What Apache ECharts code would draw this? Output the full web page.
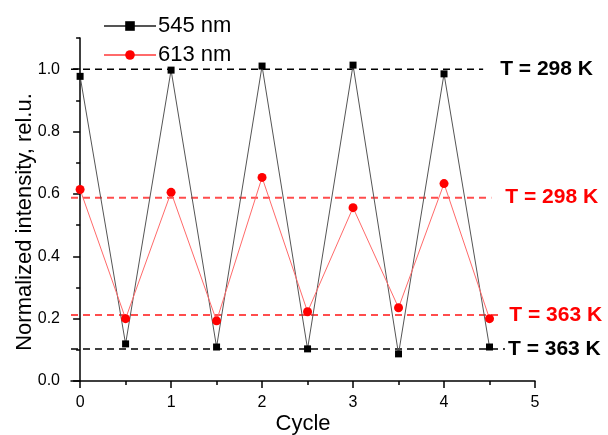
<!DOCTYPE html>
<html lang="en">
<head>
    <meta charset="utf-8">
    <title>Cycle intensity</title>
    <script src="https://cdn.jsdelivr.net/npm/echarts@6/dist/echarts.min.js"></script>
    <style>
        html, body { margin: 0; padding: 0; background: #fff; }
        #main { width: 608px; height: 435px; }
    </style>
</head>
<body>
    <div id="main"></div>

    <script type="text/javascript">
    // data
    var cycles = [0, 0.5, 1, 1.5, 2, 2.5, 3, 3.5, 4, 4.5];
    var nm545 = [0.977, 0.119, 0.997, 0.109, 1.010, 0.103, 1.013, 0.087, 0.985, 0.109];
    var nm613 = [0.614, 0.200, 0.605, 0.193, 0.653, 0.222, 0.556, 0.235, 0.633, 0.200];

    // dashed reference levels: [y, x end]
    var ref298Black = [1.0, 4.43];
    var ref298Red = [0.588, 4.52];
    var ref363Red = [0.212, 4.63];
    var ref363Black = [0.103, 4.67];

    var xTicks = [0, 1, 2, 3, 4, 5];
    var xMinor = [0.5, 1.5, 2.5, 3.5, 4.5];
    var yTicks = [0, 0.2, 0.4, 0.6, 0.8, 1.0];
    var yMinor = [0.1, 0.3, 0.5, 0.7, 0.9, 1.1];

    var font = 'Arial, "Liberation Sans", sans-serif';

    function pairs(xs, ys) {
        return xs.map(function (x, i) { return [x, ys[i]]; });
    }

    function refLine(name, ref, color, width, dist) {
        return {
            name: name,
            type: 'line',
            data: [[-0.1, ref[0]], [ref[1], ref[0]]],
            symbol: 'none',
            silent: true,
            lineStyle: { color: color, width: width, type: [7, 5] },
            endLabel: {
                show: true,
                formatter: name,
                distance: dist,
                color: color === '#000' ? '#000' : '#ff0000',
                fontFamily: font,
                fontWeight: 'bold',
                fontSize: 21
            },
            z: 1
        };
    }

    var myChart = echarts.init(document.getElementById('main'));

    myChart.setOption({
        backgroundColor: '#fff',
        animation: false,
        textStyle: { fontFamily: font },
        grid: { left: 71, right: 73, top: 38, bottom: 54, containLabel: false, outerBoundsMode: 'none' },
        legend: {
            data: ['545 nm', '613 nm'],
            orient: 'vertical',
            left: 98,
            top: 10,
            itemWidth: 52,
            itemHeight: 12,
            itemGap: 7,
            textStyle: { fontSize: 22, lineHeight: 22, color: '#000', fontFamily: font, padding: [0, 0, 0, -3] }
        },
        xAxis: [{
            type: 'value',
            min: -0.1,
            max: 5,
            name: 'Cycle',
            nameLocation: 'middle',
            nameGap: 32,
            nameMoveOverlap: false,
            nameTextStyle: { fontSize: 22, color: '#000', fontFamily: font },
            splitLine: { show: false },
            axisLine: { lineStyle: { color: '#000', width: 1.5 } },
            axisTick: { customValues: xTicks, length: 7, lineStyle: { color: '#000', width: 1.5 } },
            axisLabel: { customValues: xTicks, fontSize: 16, color: '#000', margin: 14 }
        }, {
            type: 'value',
            min: -0.1,
            max: 5,
            position: 'bottom',
            splitLine: { show: false },
            axisLine: { show: false },
            axisTick: { customValues: xMinor, length: 4, lineStyle: { color: '#000', width: 1.5 } },
            axisLabel: { show: false }
        }],
        yAxis: [{
            type: 'value',
            min: 0,
            max: 1.1,
            name: 'Normalized intensity, rel.u.',
            nameLocation: 'middle',
            nameGap: 35,
            nameMoveOverlap: false,
            nameTextStyle: { fontSize: 22, color: '#000', fontFamily: font, padding: [0, 0, 0, -25] },
            splitLine: { show: false },
            axisLine: { show: true, lineStyle: { color: '#000', width: 1.5 } },
            axisTick: { show: true, customValues: yTicks, length: 7, lineStyle: { color: '#000', width: 1.5 } },
            axisLabel: {
                customValues: yTicks, fontSize: 16, color: '#000', margin: 11,
                formatter: function (v) { return v.toFixed(1); }
            }
        }, {
            type: 'value',
            min: 0,
            max: 1.1,
            position: 'left',
            splitLine: { show: false },
            axisLine: { show: false },
            axisTick: { show: true, customValues: yMinor, length: 4, lineStyle: { color: '#000', width: 1.5 } },
            axisLabel: { show: false }
        }],
        series: [
            refLine('T = 298 K', ref298Black, '#000', 1.5, 17),
            refLine('T = 298 K ', ref298Red, '#ff4d4d', 2, 14),
            refLine('T = 363 K ', ref363Red, '#ff4d4d', 2, 8),
            refLine('T = 363 K', ref363Black, '#000', 1.5, 3),
            {
                name: '545 nm',
                type: 'line',
                data: pairs(cycles, nm545),
                symbol: 'rect',
                symbolSize: 7,
                itemStyle: { color: '#000' },
                lineStyle: { color: '#555', width: 1 },
                z: 3
            },
            {
                name: '613 nm',
                type: 'line',
                data: pairs(cycles, nm613),
                symbol: 'circle',
                symbolSize: 9,
                itemStyle: { color: '#ff0000' },
                lineStyle: { color: '#ff6a6a', width: 1 },
                z: 4
            }
        ]
    });
    </script>
</body>
</html>
